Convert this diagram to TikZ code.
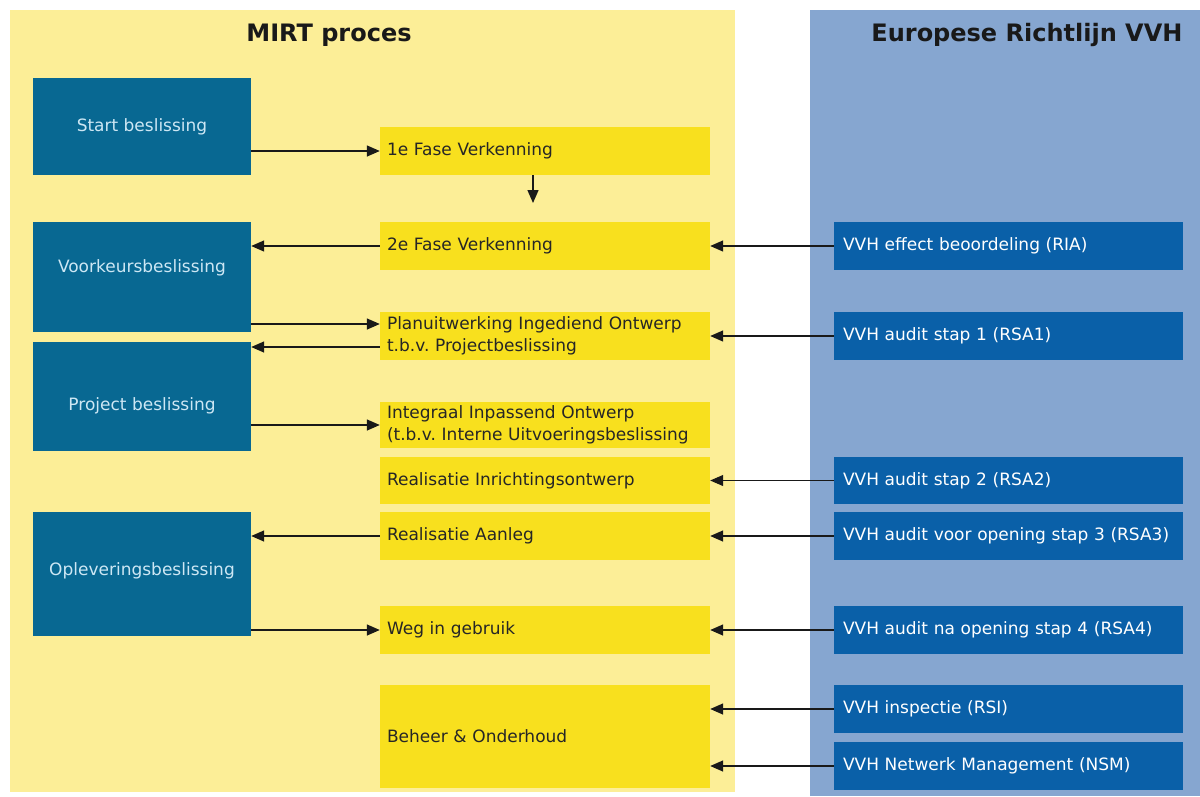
\documentclass[tikz,border=0pt]{standalone}
\usepackage{fontspec}
\setmainfont{DejaVu Sans}
\usetikzlibrary{arrows.meta,calc}
\definecolor{paley}{HTML}{FCEE97}
\definecolor{boxy}{HTML}{F8E01E}
\definecolor{tealbg}{HTML}{086892}
\definecolor{tealtxt}{HTML}{CDE7F4}
\definecolor{bluep}{HTML}{86A6D0}
\definecolor{dblue}{HTML}{0A60A8}
\frenchspacing
\begin{document}
\begin{tikzpicture}[x=1pt,y=-1pt,
  tealbox/.style={fill=tealbg, draw=none, minimum width=218pt, inner sep=0pt},
  teallbl/.style={text=tealtxt, font=\fontsize{17}{20}\selectfont},
  midbox/.style={fill=boxy, draw=none, minimum width=330pt, text width=316pt, inner xsep=7pt, inner ysep=0pt, align=left, text=black!85, font=\fontsize{17}{22}\selectfont},
  bluebox/.style={fill=dblue, draw=none, minimum width=349pt, minimum height=48pt, text width=331pt, inner xsep=9pt, inner ysep=0pt, align=left, text=white, font=\fontsize{17}{22}\selectfont},
  ttl/.style={font=\bfseries\fontsize{24}{28}\selectfont, text=black!90},
  arr/.style={-{Triangle[length=13pt,width=11pt]}, line width=1.4pt, black!90}
]
\useasboundingbox (0,0) rectangle (1200,796);
\fill[white] (0,0) rectangle (1200,796);
\fill[paley] (10,10) rectangle (735,792);
\fill[bluep] (810,10) rectangle (1200,796);

\node[ttl] (t1) at (329,35) {MIRT proces};
\node[ttl, anchor=east] (t2) at (1186,35) {Europese Richtlijn VVH};

% left decision boxes
\node[tealbox, minimum height=97pt, label={[teallbl]center:Start beslissing}] (start) at (142,126.5) {};
\node[tealbox, minimum height=110pt, label={[teallbl, yshift=9pt]center:Voorkeursbeslissing}] (voork) at (142,277) {};
\node[tealbox, minimum height=109pt, label={[teallbl, yshift=-9pt]center:Project beslissing}] (proj) at (142,396.5) {};
\node[tealbox, minimum height=124pt, label={[teallbl, yshift=3pt]center:Opleveringsbeslissing}] (opl) at (142,574) {};

% middle process boxes
\node[midbox, minimum height=48pt] (f1) at (545,151) {1e Fase Verkenning};
\node[midbox, minimum height=48pt] (f2) at (545,246) {2e Fase Verkenning};
\node[midbox, minimum height=48pt] (plan) at (545,336) {Planuitwerking Ingediend Ontwerp\\t.b.v. Projectbeslissing};
\node[midbox, minimum height=46pt] (integ) at (545,425) {Integraal Inpassend Ontwerp\\(t.b.v. Interne Uitvoeringsbeslissing};
\node[midbox, minimum height=47pt] (inr) at (545,480.5) {Realisatie Inrichtingsontwerp};
\node[midbox, minimum height=48pt] (aanleg) at (545,536) {Realisatie Aanleg};
\node[midbox, minimum height=48pt] (weg) at (545,630) {Weg in gebruik};
\node[midbox, minimum height=103pt] (beheer) at (545,736.5) {Beheer \& Onderhoud};

% right VVH boxes
\node[bluebox] (ria) at (1008.5,246) {VVH effect beoordeling (RIA)};
\node[bluebox] (rsa1) at (1008.5,336) {VVH audit stap 1 (RSA1)};
\node[bluebox, minimum height=47pt] (rsa2) at (1008.5,480.5) {VVH audit stap 2 (RSA2)};
\node[bluebox] (rsa3) at (1008.5,536) {VVH audit voor opening stap 3 (RSA3)};
\node[bluebox] (rsa4) at (1008.5,630) {VVH audit na opening stap 4 (RSA4)};
\node[bluebox] (rsi) at (1008.5,709) {VVH inspectie (RSI)};
\node[bluebox] (nsm) at (1008.5,766) {VVH Netwerk Management (NSM)};

% left-side connectors
\draw[arr] (start.east |- f1.west) -- (f1.west);
\coordinate (d1) at (533,203);
\draw[arr] (f1.south -| d1) -- (d1);
\draw[arr] (f2.west) -- (voork.east |- f2.west);
\coordinate (pin) at ($(plan.west)+(0,-12)$);
\coordinate (pout) at ($(plan.west)+(0,11)$);
\draw[arr] (voork.east |- pin) -- (pin);
\draw[arr] (pout) -- (proj.east |- pout);
\draw[arr] (proj.east |- integ.west) -- (integ.west);
\draw[arr] (aanleg.west) -- (opl.east |- aanleg.west);
\draw[arr] (opl.east |- weg.west) -- (weg.west);

% right-side connectors
\draw[arr] (ria.west) -- (f2.east |- ria.west);
\draw[arr] (rsa1.west) -- (plan.east |- rsa1.west);
\draw[arr, line width=1pt] (rsa2.west) -- (inr.east |- rsa2.west);
\draw[arr] (rsa3.west) -- (aanleg.east |- rsa3.west);
\draw[arr] (rsa4.west) -- (weg.east |- rsa4.west);
\draw[arr] (rsi.west) -- (beheer.east |- rsi.west);
\draw[arr] (nsm.west) -- (beheer.east |- nsm.west);
\end{tikzpicture}
\end{document}
